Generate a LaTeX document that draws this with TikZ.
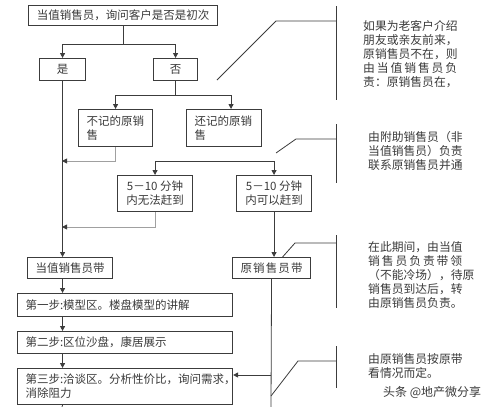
\documentclass[tikz,border=0pt]{standalone}
\usepackage{fontspec}
\setmainfont{Noto Sans CJK SC}
\usetikzlibrary{arrows.meta}
\definecolor{linegray}{HTML}{3C3C3C}
\definecolor{textgray}{HTML}{3A3A3A}
\definecolor{backgray}{HTML}{A0A0A0}
\tikzset{
  box/.style={draw=linegray,line width=1.1pt,anchor=north west,inner sep=0pt,text=textgray,font=\fontsize{11.5}{14}\selectfont},
  cbox/.style={box,align=center},
  lbox/.style={box,align=left,inner xsep=8pt},
  flow/.style={draw=linegray,line width=0.9pt,-{Triangle[length=5pt,width=5pt]}},
  back/.style={draw=backgray,line width=0.9pt,-{Triangle[length=5pt,width=5pt,color=linegray]}},
  callout/.style={draw=linegray,line width=0.8pt},
  note/.style={anchor=north west,align=left,inner sep=0pt,text=textgray,font=\fontsize{11.8}{14}\selectfont},
  wmark/.style={anchor=west,inner sep=0pt,text=textgray,font=\fontsize{12}{14}\selectfont}
}
\begin{document}
\begin{tikzpicture}[x=1pt,y=-1pt]
\useasboundingbox (0,0) rectangle (499,407);
\node[cbox,minimum width=189pt,minimum height=20pt] (ask) at (28,5) {当值销售员，询问客户是否是初次};
\node[cbox,minimum width=46pt,minimum height=22pt] (yes) at (39,58) {是};
\node[cbox,minimum width=44pt,minimum height=22pt] (no) at (153,58) {否};
\node[lbox,text width=58pt,minimum height=37pt] (forgot) at (78,109) {不记的原销\\售};
\node[lbox,text width=59pt,minimum height=37pt] (remember) at (186,109) {还记的原销\\售};
\node[cbox,minimum width=75pt,minimum height=36pt] (late) at (117,175) {5－10\ 分钟\\内无法赶到};
\node[cbox,minimum width=75pt,minimum height=36pt] (ontime) at (236,175) {5－10\ 分钟\\内可以赶到};
\node[cbox,minimum width=85pt,minimum height=21pt] (dutyled) at (27,257) {当值销售员带};
\node[cbox,minimum width=78pt,minimum height=21pt] (origled) at (232,257) {\makebox[62pt][s]{原\hfil 销\hfil 售\hfil 员\hfil 带}};
\node[lbox,text width=199pt,minimum height=23pt] (stepone) at (17,293) {第一步:模型区。楼盘模型的讲解};
\node[lbox,text width=199pt,minimum height=22pt] (steptwo) at (17,331) {第二步:区位沙盘，康居展示};
\node[lbox,text width=199pt,minimum height=36pt] (stepthree) at (17,368) {第三步:洽谈区。分析性价比，询问需求，\\消除阻力};
\coordinate (split) at (180,161);
\coordinate (joinA) at (62,161);
\coordinate (joinB) at (62,227);
\coordinate (endA) at (62,407);
\coordinate (endB) at (271,407);
\coordinate (meet) at (271,375);
\draw[flow] (ask.south) -- ++(0,18) -| (yes.north);
\draw[flow] (ask.south) ++(0,18) -| (no.north);
\draw[flow] (no.south) -- ++(0,14) -| (forgot.north);
\draw[flow] (no.south) ++(0,14) -| ([xshift=7pt]remember.north);
\draw[back] (forgot.south) |- (joinA);
\draw[flow] (split) -| (late.north);
\draw[flow] (split) -| (ontime.north);
\draw[back] (late.south) |- (joinB);
\draw[flow] (yes.south) -- (yes.south |- dutyled.north);
\draw[flow] (ontime.south) -- (ontime.south |- origled.north);
\draw[flow] (dutyled.south -| yes.south) -- (stepone.north -| yes.south);
\draw[flow] (stepone.south -| yes.south) -- (steptwo.north -| yes.south);
\draw[flow] (steptwo.south -| yes.south) -- (stepthree.north -| yes.south);
\draw[callout] (stepthree.south -| yes.south) -- (endA);
\draw[callout] (origled.south) -- (endB);
\draw[flow] (meet) -- (meet -| stepthree.east);
\draw[callout] (217,80) -- (276,21) -- (336,21);
\draw[callout] (336,6) -- (336,100);
\draw[callout] (276,153) -- (296,139) -- (336,139);
\draw[callout] (336,124) -- (336,183);
\draw[callout] ([xshift=11pt]origled.north) -- (295,243) -- (336,243);
\draw[callout] (336,235) -- (336,308);
\draw[callout] (271,396) -- (298,361) -- (336,361);
\draw[callout] (336,346) -- (336,388);
\node[note] (notefirst) at (363,20) {如果为老客户介绍\\朋友或亲友前来，\\原销售员不在，则\\\makebox[94pt][s]{由\hfil 当\hfil 值\hfil 销\hfil 售\hfil 员\hfil 负}\\责：原销售员在，};
\node[note] (notehelp) at (368,131) {由附助销售员（非\\当值销售员）负责\\联系原销售员并通};
\node[note] (notewait) at (368,241) {在此期间，由当值\\\makebox[94pt][s]{销\hfil 售\hfil 员\hfil 负\hfil 责\hfil 带\hfil 领}\\（不能冷场），待原\\销售员到达后，转\\由原销售员负责。};
\node[note] (noteorig) at (368,353) {由原销售员按原带\\看情况而定。};
\node[wmark] (credit) at (383,392) {头条 @地产微分享};
\end{tikzpicture}
\end{document}
